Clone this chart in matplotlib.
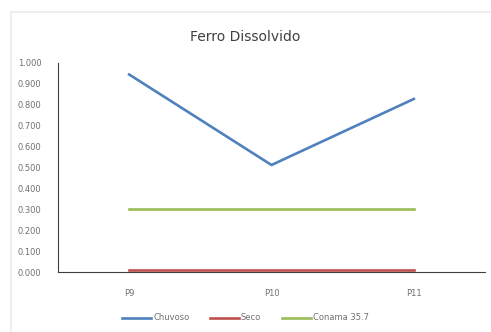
import matplotlib
matplotlib.use("Agg")
import matplotlib.pyplot as plt
from matplotlib.patches import Rectangle

categories = ["P9", "P10", "P11"]
chuvoso = [0.945, 0.512, 0.828]
seco = [0.010, 0.010, 0.010]
conama = [0.300, 0.300, 0.300]
yticks = [0.0, 0.1, 0.2, 0.3, 0.4, 0.5, 0.6, 0.7, 0.8, 0.9, 1.0]

fig = plt.figure(figsize=(4.91, 3.32), dpi=100)
fig.patch.set_facecolor("white")
fig.patches.append(Rectangle((11/491, -0.1), 1.2, 1.1 - 12/332, transform=fig.transFigure,
                             fill=False, edgecolor="#ebebeb", linewidth=1.2))
ax = fig.add_axes([58/491, 1 - 272/332, (485 - 58)/491, (272 - 63)/332])

x = list(range(len(categories)))
ax.plot(x, chuvoso, color="#4f81bd", lw=1.9, label="Chuvoso")
ax.plot(x, seco, color="#c0504d", lw=1.9, label="Seco")
ax.plot(x, conama, color="#9bbb59", lw=1.9, label="Conama 35.7")

ax.set_xlim(-0.5, 2.5)
ax.set_ylim(0, 1.0)
ax.set_yticks(yticks)
ax.set_yticklabels([f"{v:.3f}" for v in yticks])
ax.set_xticks(x)
ax.set_xticklabels(categories)
for s in ["top", "right"]:
    ax.spines[s].set_visible(False)
ax.spines["left"].set_color("#404040")
ax.spines["bottom"].set_color("#404040")
ax.tick_params(axis="both", length=0, labelsize=6, labelcolor="#707070")
ax.tick_params(axis="x", pad=12)
ax.tick_params(axis="y", pad=12)

fig.text(0.5, 1 - 37/332, "Ferro Dissolvido", ha="center", va="center", fontsize=10, color="#404040")
fig.legend(loc="center", bbox_to_anchor=(0.5, 1 - 318/332), ncol=3, frameon=False,
           fontsize=6, labelcolor="#707070", handlelength=3.5, handletextpad=0.2, columnspacing=2.5)

fig.savefig("out.png", dpi=100)
